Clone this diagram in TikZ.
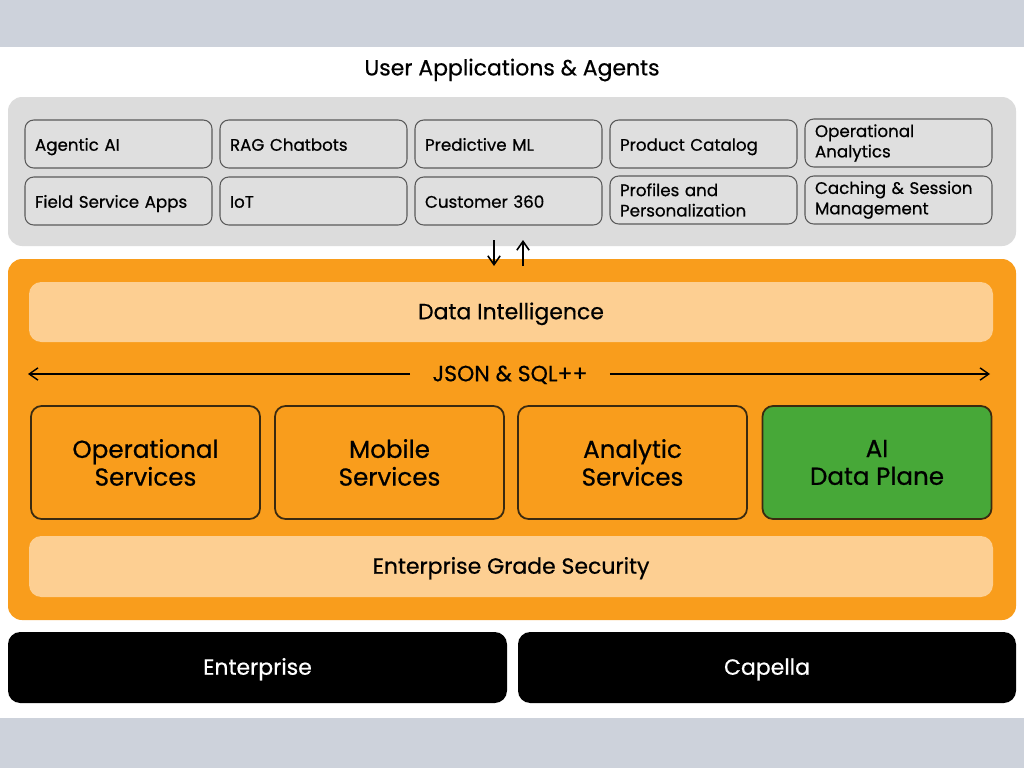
\documentclass[tikz,border=0pt]{standalone}
\usepackage{fontspec}
\setmainfont{Poppins}[FakeBold=0.6]
\usetikzlibrary{positioning,arrows.meta}

\definecolor{bandgray}{HTML}{CDD2DB}
\definecolor{panelgray}{HTML}{DCDCDC}
\definecolor{boxgray}{HTML}{DFDFDF}
\definecolor{edgegray}{HTML}{5A5A5A}
\definecolor{corange}{HTML}{F99D1C}
\definecolor{lightorange}{HTML}{FDCF92}
\definecolor{aigreen}{HTML}{47A838}
\definecolor{darkedge}{HTML}{3A2A10}

\def\pxu{0.02cm}

\begin{document}
\begin{tikzpicture}[
      x=0.02cm,
      y=-0.02cm,
      >={Straight Barb[length=5pt,width=7pt]},
      every node/.style={inner sep=0pt},
      appbox/.style={draw=edgegray, line width=0.6pt, fill=boxgray, rounded corners=5pt,
        minimum width=187*\pxu, minimum height=48*\pxu, text width=167*\pxu, align=left,
        font=\fontsize{9.5}{11.6}\selectfont},
      servicebox/.style={draw=darkedge, line width=1pt, fill=corange, rounded corners=6pt,
        minimum width=229*\pxu, minimum height=113*\pxu, align=center,
        font=\fontsize{14}{15.8}\selectfont},
      barbox/.style={fill=lightorange, rounded corners=7pt,
        minimum width=964*\pxu, minimum height=60*\pxu, font=\fontsize{12.5}{14}\selectfont},
      basebox/.style={fill=black, text=white, rounded corners=7pt,
        minimum width=499*\pxu, minimum height=71*\pxu, font=\fontsize{12.5}{14}\selectfont},
      lowtext/.style={text height=1.5ex, text depth=0pt}
    ]

    % --- 1. 背景 ---
    \useasboundingbox (0,0) rectangle (1024,768);
    \fill[white] (0,0) rectangle (1024,768);
    \fill[bandgray] (0,0) rectangle (1024,47);
    \fill[bandgray] (0,718) rectangle (1024,768);

    % --- 2. アプリケーション層 ---
    \node[font=\fontsize{12.5}{14}\selectfont] (title) at (512,70) {User Applications \& Agents};
    \node[fill=panelgray, rounded corners=8pt, minimum width=1008*\pxu, minimum height=149*\pxu]
      (apps) at (512,171.5) {};

    \foreach \nm/\cx/\cy/\txt in {
        agentic/118.5/144/{Agentic AI},
        rag/313.5/144/{RAG Chatbots},
        predict/508.5/144/{Predictive ML},
        catalog/703.5/144/{Product Catalog},
        field/118.5/201/{Field Service Apps},
        iot/313.5/201/{IoT},
        cust/508.5/201/{Customer 360}}
      \node[appbox, text height=1.6ex, text depth=0.2ex] (app-\nm) at (\cx,\cy) {\txt};
    \foreach \nm/\cx/\cy/\txt in {
        opana/898.5/143/{Operational\\Analytics},
        profile/703.5/200/{Profiles and\\Personalization},
        cache/898.5/200/{Caching \& Session\\Management}}
      \node[appbox] (app-\nm) at (\cx,\cy) {\txt};

    % --- 3. データプラットフォーム層 ---
    \node[fill=corange, rounded corners=8pt, minimum width=1008*\pxu, minimum height=361*\pxu]
      (core) at (512,439.5) {};

    % 上下の矢印
    \coordinate (downTop) at (494,240);
    \coordinate (downEnd) at (494,266);
    \coordinate (upBot) at (523,266);
    \coordinate (upEnd) at (523,240);
    \draw[->, line width=0.9pt] (downTop) -- (downEnd);
    \draw[->, line width=0.9pt] (upBot) -- (upEnd);

    \node[barbox, lowtext] (intel) at (511,312) {Data Intelligence};

    % JSON & SQL++ の双方向矢印
    \node[font=\fontsize{12.5}{14}\selectfont, lowtext] (json) at (510,374) {JSON \& SQL++};
    \coordinate (jsonL) at (28,374);
    \coordinate (jsonR) at (990,374);
    \draw[->, line width=0.8pt, shorten <=22*\pxu] (json.west) -- (jsonL);
    \draw[->, line width=0.8pt, shorten <=22*\pxu] (json.east) -- (jsonR);

    \node[servicebox] (opsvc) at (145.5,462.5) {Operational\\Services};
    \node[servicebox] (mobile) at (389.5,462.5) {Mobile\\Services};
    \node[servicebox] (analytic) at (632.5,462.5) {Analytic\\Services};
    \node[servicebox, fill=aigreen] (aiplane) at (877,462.5) {AI\\Data Plane};

    \node[barbox, lowtext, minimum height=61*\pxu] (security) at (511,566.5) {Enterprise Grade Security};

    % --- 4. デプロイ形態 ---
    \node[basebox, lowtext] (enterprise) at (257.5,667.5) {Enterprise};
    \node[basebox, lowtext, minimum width=498*\pxu] (capella) at (767,667.5) {Capella};

  \end{tikzpicture}
\end{document}
